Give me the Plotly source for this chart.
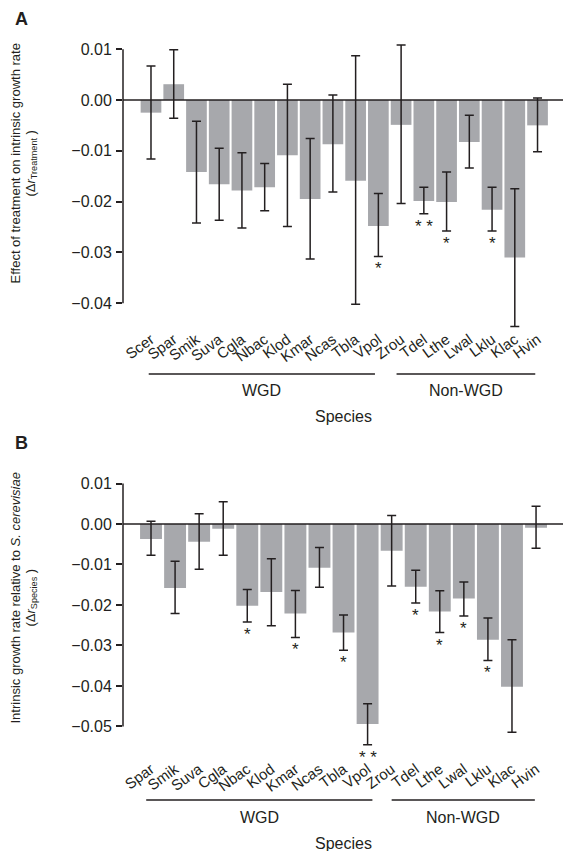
import plotly.graph_objects as go

W, H = 565, 851
FONT = "Liberation Sans, Arial, sans-serif"
INK = "#231f20"
BAR = "#a7a8ac"

# ---- Panel A: effect of treatment on intrinsic growth rate ----
species_a = ["Scer", "Spar", "Smik", "Suva", "Cgla", "Nbac", "Klod", "Kmar", "Ncas",
             "Tbla", "Vpol", "Zrou", "Tdel", "Lthe", "Lwal", "Lklu", "Klac", "Hvin"]
effect_a = [-0.0025, 0.0031, -0.0142, -0.0166, -0.0178, -0.0172, -0.0109, -0.0195, -0.0087,
            -0.0159, -0.0248, -0.0049, -0.0199, -0.0201, -0.0083, -0.0216, -0.0310, -0.0050]
upper_a = [0.0067, 0.0099, -0.0042, -0.0095, -0.0104, -0.0125, 0.0031, -0.0076, 0.0010,
           0.0087, -0.0184, 0.0108, -0.0172, -0.0142, -0.0030, -0.0172, -0.0175, 0.0004]
lower_a = [-0.0116, -0.0036, -0.0242, -0.0237, -0.0252, -0.0218, -0.0249, -0.0313, -0.0181,
           -0.0402, -0.0308, -0.0204, -0.0224, -0.0258, -0.0134, -0.0258, -0.0446, -0.0102]
signif_a = ["", "", "", "", "", "", "", "", "", "", "*", "", "**", "*", "", "*", "", ""]
group_a = ["WGD"] * 11 + ["Non-WGD"] * 7

# ---- Panel B: intrinsic growth rate relative to S. cerevisiae ----
species_b = ["Spar", "Smik", "Suva", "Cgla", "Nbac", "Klod", "Kmar", "Ncas", "Tbla",
             "Vpol", "Zrou", "Tdel", "Lthe", "Lwal", "Lklu", "Klac", "Hvin"]
effect_b = [-0.0037, -0.0158, -0.0044, -0.0012, -0.0202, -0.0168, -0.0221, -0.0108, -0.0268,
            -0.0494, -0.0066, -0.0155, -0.0216, -0.0184, -0.0286, -0.0402, -0.0009]
upper_b = [0.0007, -0.0092, 0.0025, 0.0055, -0.0162, -0.0086, -0.0164, -0.0058, -0.0225,
           -0.0444, 0.0021, -0.0114, -0.0165, -0.0143, -0.0232, -0.0286, 0.0044]
lower_b = [-0.0077, -0.0221, -0.0112, -0.0077, -0.0242, -0.0251, -0.0280, -0.0156, -0.0312,
           -0.0545, -0.0153, -0.0195, -0.0268, -0.0227, -0.0337, -0.0514, -0.0060]
signif_b = ["", "", "", "", "*", "", "*", "", "*", "**", "", "*", "*", "*", "*", "", ""]
group_b = ["WGD"] * 10 + ["Non-WGD"] * 7

yticks_a = [0.01, 0.0, -0.01, -0.02, -0.03, -0.04]
yticks_b = [0.01, 0.0, -0.01, -0.02, -0.03, -0.04, -0.05]


def py(p):
    """pixel row -> paper y"""
    return 1 - p / H


def pxx(p):
    """pixel column -> paper x"""
    return p / W


panels = [
    dict(key="", species=species_a, val=effect_a, hi=upper_a, lo=lower_a, sig=signif_a,
         grp=group_a, ticks=yticks_a, xrange=[-1.231, 18.12], yrange=[-0.0455, 0.012],
         ydom=[py(331.1), py(39.0)], standoff=-4, line_y=374, grp_y=390, species_y=416,
         seg={"WGD": (-0.10, 9.85), "Non-WGD": (10.80, 16.90)},
         letter="A", letter_y=19, title_y=164,
         title=["Effect of treatment on intrinsic growth rate",
                "(Δ<i>r</i><sub>Treatment</sub> )"]),
    dict(key="2", species=species_b, val=effect_b, hi=upper_b, lo=lower_b, sig=signif_b,
         grp=group_b, ticks=yticks_b, xrange=[-1.164, 17.12], yrange=[-0.0565, 0.012],
         ydom=[py(752.8), py(475.4)], standoff=4, line_y=800, grp_y=817, species_y=843,
         seg={"WGD": (-0.20, 9.20), "Non-WGD": (10.00, 15.95)},
         letter="B", letter_y=443, title_y=598,
         title=["Intrinsic growth rate relative to <i>S. cerevisiae</i>",
                "(Δ<i>r</i><sub>Species</sub> )"]),
]

fig = go.Figure()
shapes, annotations = [], []
xdom = [pxx(123), pxx(563)]

for p in panels:
    xa, ya = "x" + p["key"], "y" + p["key"]
    fig.add_trace(go.Bar(
        x=p["species"], y=p["val"], xaxis=xa, yaxis=ya,
        marker=dict(color=BAR, line=dict(width=0)), width=0.91,
        error_y=dict(type="data", symmetric=False,
                     array=[h - v for h, v in zip(p["hi"], p["val"])],
                     arrayminus=[v - l for v, l in zip(p["val"], p["lo"])],
                     color=INK, thickness=1.5, width=4.5),
        showlegend=False, hoverinfo="skip",
    ))

    fig.layout["xaxis" + p["key"]] = dict(
        domain=xdom, anchor=ya, type="category", range=p["xrange"],
        categoryorder="array", categoryarray=p["species"],
        showline=False, showgrid=False, zeroline=False,
        ticks="", ticklabelstandoff=p["standoff"],
        tickangle=-36, tickfont=dict(family=FONT, size=15, color=INK),
    )
    fig.layout["yaxis" + p["key"]] = dict(
        domain=p["ydom"], anchor=xa, range=p["yrange"],
        tickvals=p["ticks"], tickformat=".2f",
        showline=False, showgrid=False, zeroline=False,
        ticks="outside", ticklen=6, tickwidth=1.5, tickcolor=INK,
        ticklabelstandoff=1,
        tickfont=dict(family=FONT, size=16, color=INK),
    )

    dom = ("x" + p["key"] + " domain") if p["key"] else "x domain"
    # vertical axis line spanning the labelled ticks
    shapes.append(dict(type="line", xref=dom, yref=ya, x0=0, x1=0,
                       y0=min(p["ticks"]), y1=max(p["ticks"]),
                       line=dict(color=INK, width=1.5), layer="above"))
    # zero reference line
    shapes.append(dict(type="line", xref=dom, yref=ya, x0=0, x1=1, y0=0, y1=0,
                       line=dict(color=INK, width=1.5), layer="above"))

    # group brackets and their labels
    for g, (g0, g1) in p["seg"].items():
        shapes.append(dict(type="line", xref=xa, yref="paper", x0=g0, x1=g1,
                           y0=py(p["line_y"]), y1=py(p["line_y"]),
                           line=dict(color=INK, width=1.6)))
        annotations.append(dict(text=g, xref=xa, yref="paper", x=(g0 + g1) / 2,
                                y=py(p["grp_y"]), showarrow=False,
                                xanchor="center", yanchor="middle",
                                font=dict(family=FONT, size=16, color=INK)))

    annotations.append(dict(text="Species", xref="paper", yref="paper", x=pxx(343),
                            y=py(p["species_y"]), showarrow=False,
                            xanchor="center", yanchor="middle",
                            font=dict(family=FONT, size=16, color=INK)))

    # significance marks below the error bars
    for s, lo, mark in zip(p["species"], p["lo"], p["sig"]):
        if mark:
            annotations.append(dict(text=" ".join(mark), xref=xa, yref=ya, x=s, y=lo,
                                    xanchor="center", yanchor="top", yshift=-1,
                                    showarrow=False,
                                    font=dict(family=FONT, size=17, color=INK)))

    # panel letter
    annotations.append(dict(text="<b>" + p["letter"] + "</b>", xref="paper", yref="paper",
                            x=pxx(21), y=py(p["letter_y"]), showarrow=False,
                            xanchor="center", yanchor="middle",
                            font=dict(family=FONT, size=18, color=INK)))
    # y-axis title, one rotated annotation per line
    for line_text, cx in zip(p["title"], (14.5, 30.5)):
        annotations.append(dict(text=line_text, xref="paper", yref="paper",
                                x=pxx(cx), y=py(p["title_y"]), textangle=-90,
                                xanchor="center", yanchor="middle", showarrow=False,
                                font=dict(family=FONT, size=13, color=INK)))

fig.update_layout(
    width=W, height=H, margin=dict(l=0, r=0, t=0, b=0),
    paper_bgcolor="white", plot_bgcolor="white",
    bargap=0.09, shapes=shapes, annotations=annotations,
    font=dict(family=FONT, color=INK),
)

fig.write_html("out.html")
